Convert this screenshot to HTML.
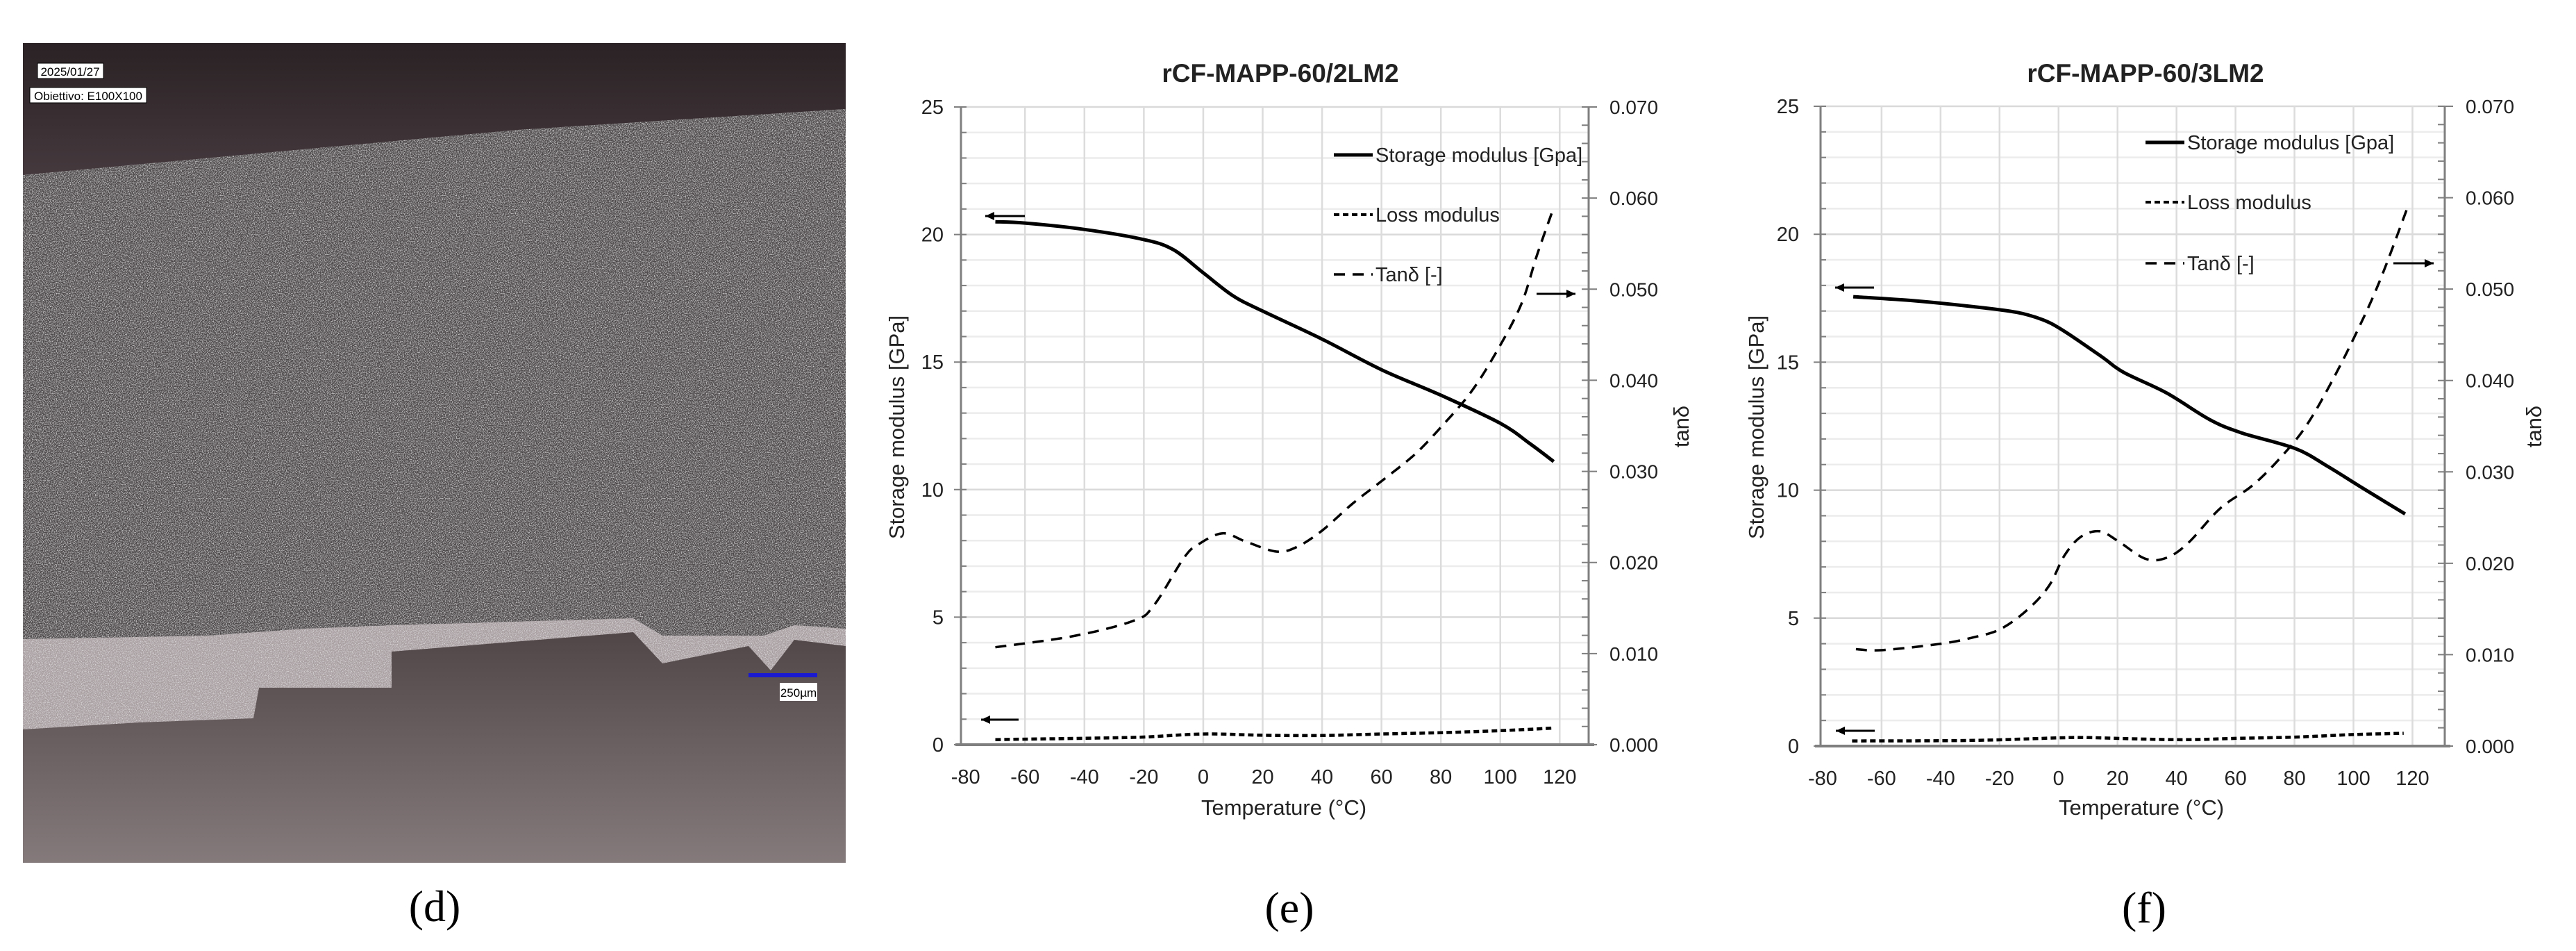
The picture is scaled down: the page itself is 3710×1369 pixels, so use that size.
<!DOCTYPE html>
<html><head><meta charset="utf-8">
<style>
html,body{margin:0;padding:0;background:#fff;}
body{width:3710px;height:1364px;overflow:hidden;font-family:"Liberation Sans",sans-serif;}
svg text{font-family:"Liberation Sans",sans-serif;}
</style></head>
<body>
<svg id="root" width="3710" height="1364" viewBox="0 0 3710 1364" xmlns="http://www.w3.org/2000/svg">
<defs>
  <filter id="grain" x="0" y="0" width="100%" height="100%">
    <feTurbulence type="fractalNoise" baseFrequency="0.8" numOctaves="2" seed="3" result="n"/>
    <feColorMatrix in="n" type="matrix" values="0 0 0 0 0.85  0 0 0 0 0.83  0 0 0 0 0.84  0 0 0 2.2 -1.0" result="spk"/>
    <feComposite in="spk" in2="SourceGraphic" operator="in" result="s2"/>
    <feMerge><feMergeNode in="SourceGraphic"/><feMergeNode in="s2"/></feMerge>
  </filter>
  <linearGradient id="bottomDark" x1="0" y1="0" x2="0" y2="1">
    <stop offset="0" stop-color="#241d1f"/>
    <stop offset="0.6" stop-color="#3a3032"/>
    <stop offset="1" stop-color="#857a7b"/>
  </linearGradient>
  <linearGradient id="topDark" x1="0" y1="0" x2="0" y2="1">
    <stop offset="0" stop-color="#2a2224"/>
    <stop offset="1" stop-color="#463a3f"/>
  </linearGradient>
  <clipPath id="photoClip"><rect x="33" y="62" width="1185" height="1180"/></clipPath>
</defs>

<g clip-path="url(#photoClip)">
  <rect x="33" y="62" width="1185" height="1180" fill="url(#bottomDark)"/>
  <rect x="33" y="62" width="1185" height="200" fill="url(#topDark)"/>
  <polygon fill="#a89fa1" filter="url(#grain)"
    points="33,252 415,217 746,187 1218,157 1218,930 1144,921 1110,965 1078,930 954,955 912,910 564,938 564,990 373,990 365,1034 200,1040 33,1050"/>
  <polygon fill="#4c4748" filter="url(#grain)"
    points="33,252 415,217 746,187 1218,157 1218,905 1144,900 1100,915 954,915 912,890 564,900 440,905 300,915 33,920"/>
  <rect x="54" y="91" width="95" height="22" fill="#fff" stroke="#000" stroke-width="1"/>
  <text x="101" y="109" font-size="17" text-anchor="middle" fill="#000">2025/01/27</text>
  <rect x="43" y="126" width="168" height="22" fill="#fff" stroke="#000" stroke-width="1"/>
  <text x="127" y="144" font-size="17" text-anchor="middle" fill="#000">Obiettivo: E100X100</text>
  <rect x="1078" y="969" width="99" height="6" fill="#1a1ad0"/>
  <rect x="1123" y="983" width="54" height="26" fill="#fff"/>
  <text x="1150" y="1003" font-size="17" text-anchor="middle" fill="#000">250µm</text>
</g>
<text x="626" y="1326" font-size="64" text-anchor="middle" fill="#000" style="font-family:'Liberation Serif',serif">(d)</text>

<g id="chartE"></g>
<g id="chartF"></g>
<text x="1857" y="1328" font-size="64" text-anchor="middle" fill="#000" style="font-family:'Liberation Serif',serif">(e)</text>
<text x="3088" y="1328" font-size="64" text-anchor="middle" fill="#000" style="font-family:'Liberation Serif',serif">(f)</text>
</svg>

<script>
// ===== Chart (e) data =====
const eStorageT = [-70,-60,-40,-20,-10,0,10,20,40,60,80,100,110,118];
const eStorageV = [20.5,20.45,20.2,19.8,19.4,18.5,17.6,17.0,15.9,14.7,13.7,12.6,11.8,11.1];
const eLossT = [-70,-40,-20,0,20,40,60,80,100,118];
const eLossV = [0.2,0.25,0.3,0.42,0.37,0.36,0.42,0.47,0.55,0.65];
const eTanT = [-70,-44,-23.5,-16.6,-6.3,-1.1,6.6,14.3,24.6,31.5,40,50.4,59.9,71,79.6,89.9,98.5,107,112.3,117.8];
const eTanV = [0.0107,0.0119,0.0136,0.0153,0.0206,0.0221,0.0232,0.0223,0.0212,0.0217,0.0235,0.0265,0.0289,0.0318,0.0347,0.0386,0.043,0.0483,0.0537,0.0588];
// ===== Chart (f) data =====
const fStorageT = [-69.6,-48.8,-28.8,-14.2,-5.2,2.1,14.8,22.1,36.6,51.2,62,80.2,91.1,102,117.5];
const fStorageV = [17.56,17.4,17.17,16.95,16.65,16.2,15.2,14.6,13.8,12.76,12.24,11.63,10.94,10.16,9.07];
const fLossT = [-70,-30,0,10,40,60,80,100,117];
const fLossV = [0.2,0.22,0.32,0.33,0.25,0.3,0.35,0.45,0.5];
const fTanT = [-68.7,-59.7,-39.7,-28.8,-19.7,-10.6,-3.3,2.1,7.6,14,20.3,29.4,36.6,43.9,54.8,65.7,74.8,83.9,93,102,109.3,118.4];
const fTanV = [0.0106,0.0105,0.0112,0.0119,0.0128,0.0149,0.0175,0.0209,0.0229,0.0235,0.0224,0.0205,0.0206,0.0222,0.026,0.0285,0.0314,0.035,0.0401,0.0459,0.0512,0.059];
// ===== Axis ticks =====
const xTickLabels = [-80,-60,-40,-20,0,20,40,60,80,100,120];
const yLeftTickLabels = [0,5,10,15,20,25];
const yRightTickLabels = ["0.000","0.010","0.020","0.030","0.040","0.050","0.060","0.070"];

const NS = "http://www.w3.org/2000/svg";
function mk(parent, tag, attrs, text){
  const el = document.createElementNS(NS, tag);
  for (const k in attrs) el.setAttribute(k, attrs[k]);
  if (text !== undefined) el.textContent = text;
  parent.appendChild(el);
  return el;
}
function smoothPath(pts){
  let d = "M" + pts[0][0].toFixed(1) + "," + pts[0][1].toFixed(1);
  for (let i = 0; i < pts.length - 1; i++){
    const p0 = pts[i-1] || pts[i], p1 = pts[i], p2 = pts[i+1], p3 = pts[i+2] || p2;
    const c1x = p1[0] + (p2[0]-p0[0])/6, c1y = p1[1] + (p2[1]-p0[1])/6;
    const c2x = p2[0] - (p3[0]-p1[0])/6, c2y = p2[1] - (p3[1]-p1[1])/6;
    d += " C" + c1x.toFixed(1)+","+c1y.toFixed(1)+" "+c2x.toFixed(1)+","+c2y.toFixed(1)+" "+p2[0].toFixed(1)+","+p2[1].toFixed(1);
  }
  return d;
}

function drawChart(g, cfg){
  const xs = t => cfg.x80 + (t + 80) * cfg.pxDeg;
  const yL = v => cfg.bottom - v / 25 * (cfg.bottom - cfg.top);
  const yR = v => cfg.bottom - v / 0.07 * (cfg.bottom - cfg.top);
  const L = cfg.left, R = cfg.right, T = cfg.top, B = cfg.bottom;

  const grid = mk(g, "g", {});
  
  
  for (let v = 1; v <= 25; v++){
    const gl = mk(grid, "line", {x1:L, x2:R, y1:yL(v), y2:yL(v), stroke: v%5===0 ? "#d9d9d9" : "#ececec", "stroke-width": 2.5});
    
    
  }
  for (let i = 1; i < xTickLabels.length; i++){
    const xv = xs(xTickLabels[i]);
    const gl = mk(grid, "line", {x1:xv, x2:xv, y1:T, y2:B, stroke:"#dcdcdc", "stroke-width": 2.5});
    
    
  }

  const ax = mk(g, "g", {stroke:"#7f7f7f", "stroke-width": 3});
  
  
  mk(ax, "line", {x1:L, x2:L, y1:T, y2:B});
  mk(ax, "line", {x1:R, x2:R, y1:T, y2:B});
  mk(ax, "line", {x1:L-8, x2:R+8, y1:B, y2:B, "stroke-width":4});
  for (let v = 0; v <= 25; v++){
    const maj = v % 5 === 0;
    mk(ax, "line", {x1: maj ? L-10 : L, x2: L+8, y1:yL(v), y2:yL(v), "stroke-width":2});
  }
  for (let k = 0; k <= 35; k++){
    const v = k * 0.002, maj = k % 5 === 0;
    mk(ax, "line", {x1: R-10, x2: maj ? R+12 : R, y1:yR(v), y2:yR(v), "stroke-width":2});
  }

  yLeftTickLabels.forEach(v => {
    const t = mk(g, "text", {x: cfg.leftLabelX, y: yL(v)+10, "font-size":29, "text-anchor":"end", fill:"#222"}, String(v));
    
    
  });
  yRightTickLabels.forEach(s => {
    const t = mk(g, "text", {x: R+30, y: yR(parseFloat(s))+10, "font-size":28, fill:"#222"}, s);
    
    
  });
  xTickLabels.forEach(v => {
    const t = mk(g, "text", {x: xs(v), y: B+56, "font-size":29, "text-anchor":"middle", fill:"#222"}, String(v));
    
    
  });

  const title = mk(g, "text", {x: cfg.titleX, y: 118, "font-size":37, "font-weight":"bold", "text-anchor":"middle", fill:"#222"}, cfg.title);
  
  
  const xt = mk(g, "text", {x: cfg.xTitleX, y: 1173, "font-size":31, "text-anchor":"middle", fill:"#222"}, "Temperature (°C)");
  
  
  const yt = mk(g, "text", {x: 0, y: 0, "font-size":31, "text-anchor":"middle", fill:"#222", transform:"translate("+cfg.yTitleX+",615) rotate(-90)"}, "Storage modulus [GPa]");
  
  
  const rt = mk(g, "text", {x: 0, y: 0, "font-size":31, "text-anchor":"middle", fill:"#222", transform:"translate("+cfg.rTitleX+",614) rotate(-90)"}, "tanδ");
  
  

  const sp = mk(g, "path", {d: smoothPath(cfg.sT.map((t,i)=>[xs(t), yL(cfg.sV[i])])), fill:"none", stroke:"#000", "stroke-width":5});
  
  
  const lp = mk(g, "path", {d: smoothPath(cfg.lT.map((t,i)=>[xs(t), yL(cfg.lV[i])])), fill:"none", stroke:"#000", "stroke-width":4.5, "stroke-dasharray":"8 5"});
  
  
  const tp = mk(g, "path", {d: smoothPath(cfg.tT.map((t,i)=>[xs(t), yR(cfg.tV[i])])), fill:"none", stroke:"#000", "stroke-width":3.5, "stroke-dasharray":"16 11"});
  
  

  const lg = mk(g, "g", {});
  
  
  const items = [["Storage modulus [Gpa]","none",5],["Loss modulus","8 5",4],["Tanδ [-]","16 11",3.5]];
  items.forEach((it, i) => {
    const y = cfg.legendY[i];
    const e = mk(lg, "g", {});
    
    
    mk(e, "line", {x1: cfg.legendX, x2: cfg.legendX+56, y1: y, y2: y, stroke:"#000", "stroke-width": it[2], "stroke-dasharray": it[1]});
    mk(e, "text", {x: cfg.legendX+60, y: y+10, "font-size":29, fill:"#222"}, it[0]);
  });

  cfg.arrows.forEach(a => {
    const ag = mk(g, "g", {});
    
    
    mk(ag, "line", {x1:a[0], x2:a[1], y1:a[2], y2:a[2], stroke:"#000", "stroke-width":3});
    const tip = a[3] === "L" ? a[0] : a[1], dir = a[3] === "L" ? 1 : -1;
    mk(ag, "polygon", {points: tip+","+a[2]+" "+(tip+dir*13)+","+(a[2]-6)+" "+(tip+dir*13)+","+(a[2]+6), fill:"#000"});
  });
}

drawChart(document.getElementById("chartE"), {
  x80: 1390.7, pxDeg: 4.278, left: 1384, right: 2288, top: 154, bottom: 1072,
  leftLabelX: 1359, titleX: 1844, xTitleX: 1849, yTitleX: 1302, rTitleX: 2432,
  title: "rCF-MAPP-60/2LM2",
  sT: eStorageT, sV: eStorageV, lT: eLossT, lV: eLossV, tT: eTanT, tV: eTanV,
  legendX: 1921, legendY: [223, 309, 395],
  arrows: [[1419,1476,311,"L"],[1413,1467,1036,"L"],[2213,2269,423,"R"]]
});
drawChart(document.getElementById("chartF"), {
  x80: 2624.9, pxDeg: 4.248, left: 2622, right: 3521, top: 153, bottom: 1074,
  leftLabelX: 2591, titleX: 3090, xTitleX: 3084, yTitleX: 2540, rTitleX: 3660,
  title: "rCF-MAPP-60/3LM2",
  sT: fStorageT, sV: fStorageV, lT: fLossT, lV: fLossV, tT: fTanT, tV: fTanV,
  legendX: 3090, legendY: [205, 291, 379],
  arrows: [[2643,2699,414,"L"],[2644,2700,1052,"L"],[3447,3505,379,"R"]]
});
</script>
</body></html>
